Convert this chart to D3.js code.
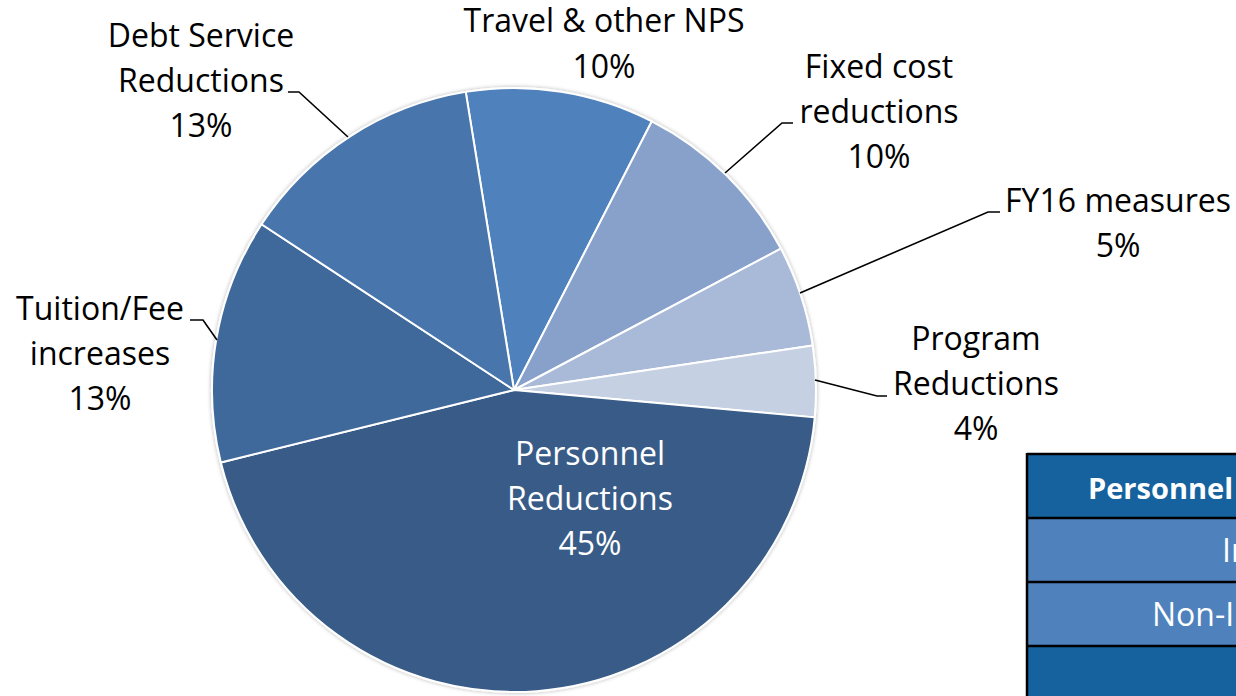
<!DOCTYPE html>
<html>
<head>
<meta charset="utf-8">
<script src="https://cdn.jsdelivr.net/npm/d3@7"></script>
<style>
  html, body { margin: 0; padding: 0; background: #fff; overflow: hidden; }
  svg { display: block; font-family: "Open Sans", Lato, sans-serif; }
</style>
</head>
<body>
<script>
// slice data, clockwise from the Travel slice
var categories = ["Travel & other NPS", "Fixed cost reductions", "FY16 measures", "Program Reductions",
                  "Personnel Reductions", "Tuition/Fee increases", "Debt Service Reductions"];
var values = [10.1, 9.7, 5.4, 3.8, 44.7, 13.1, 13.2];
var colors = ["#4f81bd", "#87a1cb", "#a9b9d8", "#c5d0e3", "#375b87", "#41699b", "#4875ad"];

// label lines as drawn (wrapped) and label anchors
var labelLines = [
  ["Travel & other NPS"],
  ["Fixed cost", "reductions"],
  ["FY16 measures"],
  ["Program", "Reductions"],
  ["Personnel", "Reductions"],
  ["Tuition/Fee", "increases"],
  ["Debt Service", "Reductions"]
];
var labelPos = [[604, 32], [879, 78], [1118, 212], [976, 350], [590, 465], [100, 320], [201, 47]];
// leader line points for outside labels (null = inside label)
var leaders = [
  null,
  [[793, 123], [782, 123], [725, 173]],
  [[1000, 212], [988, 212], [800, 293]],
  [[887, 396], [877, 396], [815, 380]],
  null,
  [[190, 320], [203, 320], [217, 340]],
  [[288, 92], [299, 92], [348, 137]]
];

// table on the right (partly off page)
var tableHeader = "Personnel Reductions";
var tableRows = ["Instructional", "Non-Instructional", ""];
var tableRowX = [1222, 1152, 1152];

var width = 1236, height = 696;
var cx = 514, cy = 390, radius = 302;
var fontSize = 32;

var svg = d3.select("body").append("svg")
    .attr("width", width)
    .attr("height", height);

var data = categories.map(function(c, i) { return {name: c, value: values[i], i: i}; });

var pie = d3.pie()
    .value(function(d) { return d.value; })
    .sort(null)
    .startAngle(-9.2 * Math.PI / 180)
    .endAngle((360 - 9.2) * Math.PI / 180);

var arc = d3.arc().innerRadius(0).outerRadius(radius);

var defs = svg.append("defs");
var f = defs.append("filter").attr("id", "shadow").attr("x", "-10%").attr("y", "-10%").attr("width", "120%").attr("height", "120%");
f.append("feGaussianBlur").attr("in", "SourceAlpha").attr("stdDeviation", 2);
f.append("feComponentTransfer").append("feFuncA").attr("type", "linear").attr("slope", 0.3);
var fm = f.append("feMerge");
fm.append("feMergeNode");
fm.append("feMergeNode").attr("in", "SourceGraphic");

var g = svg.append("g").attr("transform", "translate(" + cx + "," + cy + ")");

g.append("g").attr("filter", "url(#shadow)")
  .selectAll("path")
  .data(pie(data))
  .enter().append("path")
    .attr("d", arc)
    .attr("fill", function(d) { return colors[d.data.i]; })
    .attr("stroke", "#fff")
    .attr("stroke-width", 2)
    .attr("stroke-linejoin", "round");

// leader lines
var line = d3.line();
svg.append("g").selectAll("path")
  .data(leaders.filter(function(d) { return d; }))
  .enter().append("path")
    .attr("d", line)
    .attr("fill", "none")
    .attr("stroke", "#000")
    .attr("stroke-width", 1.6);

// labels
var lbl = svg.append("g").selectAll("text")
  .data(data)
  .enter().append("text")
    .attr("text-anchor", "middle")
    .attr("font-size", fontSize)
    .attr("fill", function(d) { return d.i === 4 ? "#fff" : "#000"; })
    .attr("x", function(d) { return labelPos[d.i][0]; })
    .attr("y", function(d) { return labelPos[d.i][1]; });

lbl.each(function(d) {
  var t = d3.select(this);
  var lines = labelLines[d.i].concat([Math.round(d.value) + "%"]);
  lines.forEach(function(s, k) {
    t.append("tspan")
      .attr("x", labelPos[d.i][0])
      .attr("dy", k === 0 ? 0 : (d.i === 0 ? 46 : 45))
      .text(s);
  });
});

// table
var tx = 1027, ty = 454, rowH = 64, tw = 480;
var tbl = svg.append("g");
tbl.append("rect").attr("x", tx).attr("y", ty).attr("width", tw).attr("height", rowH)
   .attr("fill", "#16629e");
tableRows.forEach(function(r, k) {
  tbl.append("rect").attr("x", tx).attr("y", ty + rowH * (k + 1)).attr("width", tw).attr("height", rowH)
     .attr("fill", k < 2 ? "#4f81bd" : "#16629e");
});
// grid lines
d3.range(0, tableRows.length + 1).forEach(function(k) {
  tbl.append("line").attr("x1", tx).attr("x2", tx + tw)
     .attr("y1", ty + rowH * k).attr("y2", ty + rowH * k)
     .attr("stroke", "#000").attr("stroke-width", 2.5);
});
tbl.append("line").attr("x1", tx).attr("x2", tx).attr("y1", ty - 1).attr("y2", height)
   .attr("stroke", "#000").attr("stroke-width", 2.5);

tbl.append("text").attr("x", 1088).attr("y", ty + 45)
   .attr("font-size", 29).attr("font-weight", "bold").attr("fill", "#fff")
   .text(tableHeader);
tbl.selectAll("text.row")
  .data(tableRows)
  .enter().append("text")
    .attr("class", "row")
    .attr("x", function(r, k) { return tableRowX[k]; })
    .attr("y", function(r, k) { return ty + rowH * (k + 1) + 44; })
    .attr("font-size", fontSize).attr("fill", "#fff")
    .text(function(r) { return r; });
</script>
</body>
</html>
